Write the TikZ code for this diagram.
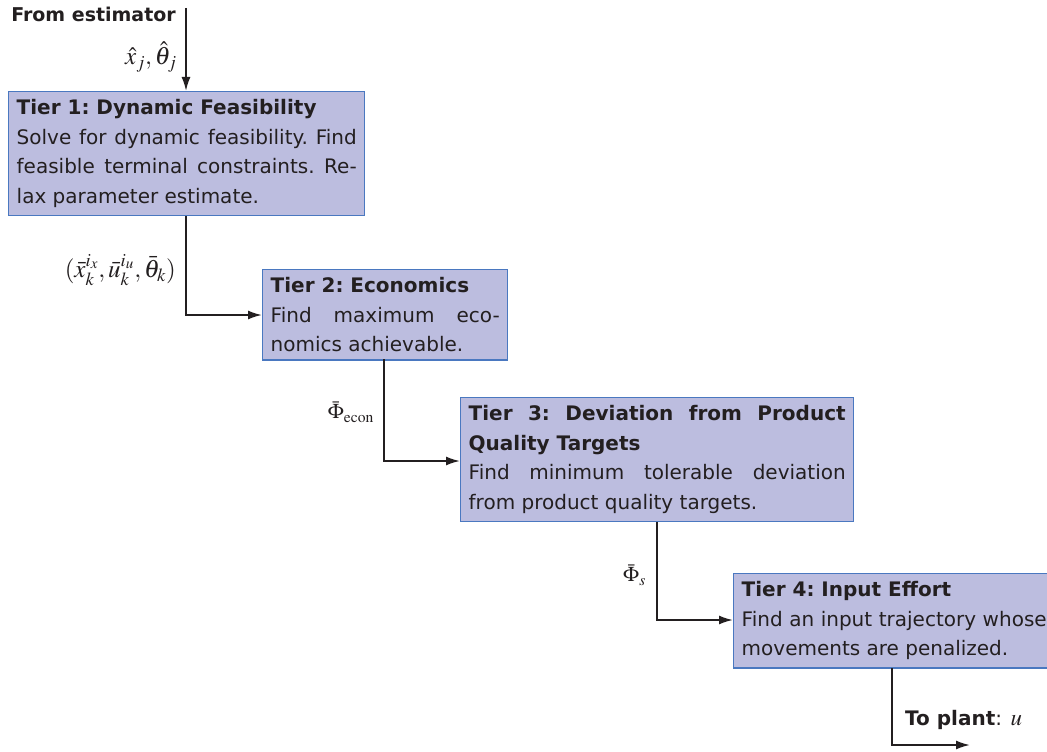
\documentclass[tikz,border=0pt]{standalone}
\usepackage{mathptmx}
\usepackage{fontspec}
\setmainfont{DejaVu Sans}
\usetikzlibrary{arrows.meta}
\definecolor{tierfill}{HTML}{BCBDDF}
\definecolor{tierline}{HTML}{4A78C0}
\definecolor{ink}{HTML}{231F20}
\tikzset{
  tier/.style={draw=tierline, line width=1.4pt, fill=tierfill, anchor=north west,
    inner xsep=8pt, inner ysep=8pt, align=justify, text=ink,
    font=\fontsize{20}{29.5}\selectfont\frenchspacing},
  flow/.style={draw=ink, line width=1.9pt, -{Latex[length=14pt,width=9pt]}},
  lbl/.style={inner sep=0pt, text=ink, font=\fontsize{20}{24}\selectfont},
  biglbl/.style={lbl, font=\fontsize{25}{28}\selectfont},
}
\begin{document}
\begin{tikzpicture}[x=1pt,y=-1pt]
\useasboundingbox (0,0) rectangle (1047,752);

% the four tiers
\node[tier, text width=340pt] (t1) at (8,91)
  {\textbf{Tier 1: Dynamic Feasibility}\\ Solve for dynamic feasibility. Find\linebreak feasible terminal constraints. Re-\linebreak lax parameter estimate.};
\node[tier, text width=229pt] (t2) at (262,269)
  {\textbf{Tier 2: Economics}\\ Find maximum eco-\linebreak nomics achievable.};
\node[tier, text width=377pt] (t3) at (460,397)
  {\textbf{Tier 3: Deviation from Product\linebreak Quality Targets}\\ Find minimum tolerable deviation\linebreak from product quality targets.};
\node[tier, text width=305pt] (t4) at (733,573)
  {\textbf{Tier 4: Input Effort}\\ Find an input trajectory whose\linebreak movements are penalized.};

% free ends of the outer connectors
\coordinate (src) at (186,8);
\coordinate (plant) at (970,745);
\coordinate (b1) at (186,216);
\coordinate (b2) at (384,359);
\coordinate (b3) at (657,522);
\coordinate (b4) at (892,668);

% connectors
\draw[flow] (src) -- (src |- t1.north);
\draw[flow] (b1) |- (t2.west |- 0,315);
\draw[flow] (b2) |- (t3.west |- 0,461);
\draw[flow] (b3) |- (t4.west |- 0,620);
\draw[flow] (b4) |- (plant);

% labels
\node[lbl, anchor=east, font=\fontsize{19}{24}\selectfont] (from) at (176,14) {\textbf{From estimator}};
\node[biglbl, anchor=east] (l0) at (177,57) {$\hat{x}_j,\hat{\theta}_j$};
\node[biglbl, anchor=east] (l1) at (176,270) {$(\bar{x}_k^{i_x},\bar{u}_k^{i_u},\bar{\theta}_k)$};
\node[lbl, anchor=east, font=\fontsize{21}{24}\selectfont] (l2) at (374,412) {$\bar{\Phi}_{\mathrm{econ}}$};
\node[lbl, anchor=east, font=\fontsize{21}{24}\selectfont] (l3) at (646,575) {$\bar{\Phi}_s$};
\node[lbl, anchor=west] (to) at (905,720) {\textbf{To plant}: {\fontsize{23}{24}\selectfont$u$}};
\end{tikzpicture}
\end{document}
